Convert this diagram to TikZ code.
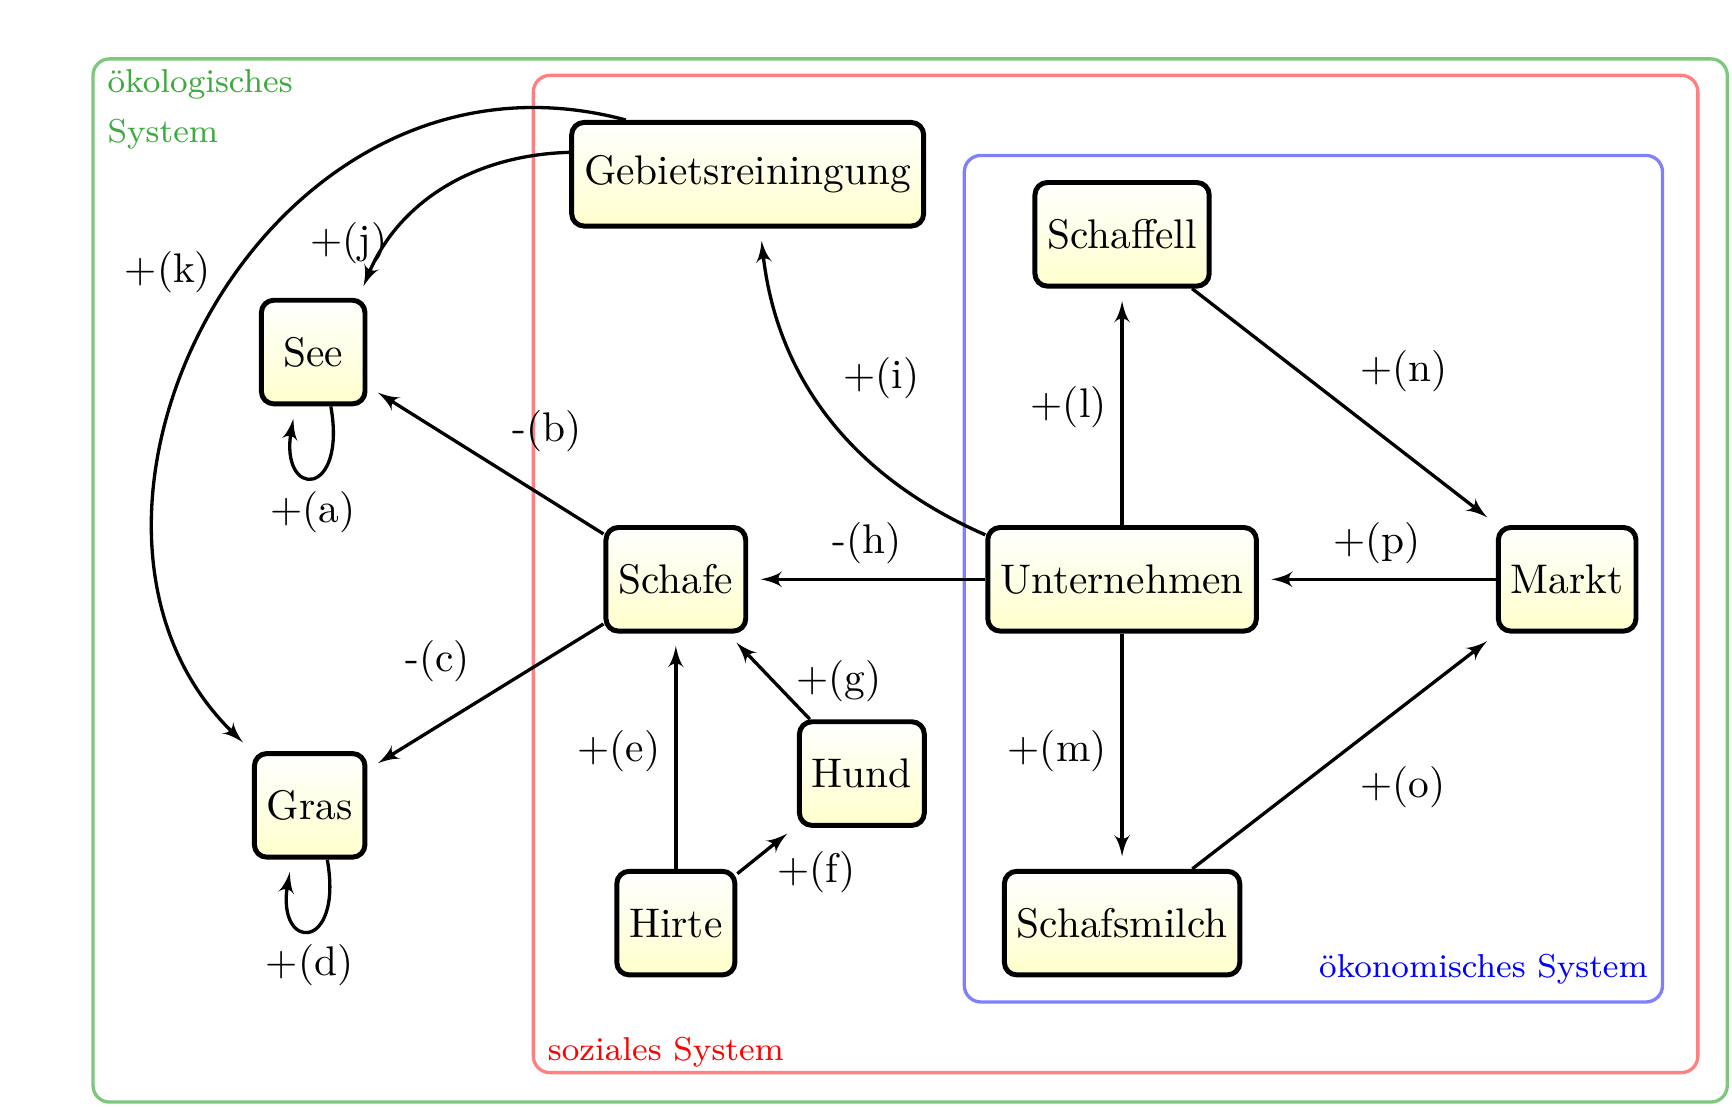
\documentclass[tikz,border=0pt]{standalone}
\usepackage{tikz}
\usetikzlibrary{arrows,calc,positioning,shapes}
\definecolor{ecoline}{RGB}{125,200,125}
\definecolor{ecotext}{RGB}{60,170,60}
\newcommand{\framefont}{\fontsize{8pt}{12pt}\selectfont}

\begin{document}
\begin{tikzpicture}[>=latex']
	\tikzstyle{block} = [draw, very thick, rounded corners=3pt, top color=white, bottom color=yellow!20, minimum height=0.88cm, minimum width=0.88cm, inner xsep=3pt]
	\tikzstyle{link} = [draw, thick, ->, shorten >=3pt]
	\tikzstyle{sysbox} = [thick, rounded corners]

	\useasboundingbox (0,0) rectangle (14.71,9.40);

	% the three systems
	\draw[sysbox, ecoline] (0.79,0.04) rectangle (14.67,8.90);
	\draw[sysbox, red!50] (4.53,0.29) rectangle (14.42,8.76);
	\draw[sysbox, blue!50] (8.19,0.89) rectangle (14.12,8.08);

	\node[anchor=north west, text=ecotext, font=\framefont, align=left] (ecolabel) at (0.79,8.93) {ökologisches\\System};
	\node[anchor=south west, text=red, font=\framefont] (soclabel) at (4.53,0.21) {soziales System};
	\node[anchor=south east, text=blue, font=\framefont] (ecnlabel) at (14.12,0.92) {ökonomisches System};

	% actors
	\node[block] (gebiet) at (6.35,7.92) {Gebietsreiningung};
	\node[block] (fell) at (9.53,7.41) {Schaffell};
	\node[block] (see) at (2.66,6.41) {See};
	\node[block] (schafe) at (5.74,4.48) {Schafe};
	\node[block] (firma) at (9.53,4.48) {Unternehmen};
	\node[block] (markt) at (13.31,4.48) {Markt};
	\node[block] (hund) at (7.32,2.83) {Hund};
	\node[block] (gras) at (2.63,2.56) {Gras};
	\node[block] (hirte) at (5.74,1.56) {Hirte};
	\node[block] (milch) at (9.53,1.56) {Schafsmilch};

	% relations
	\draw[link] (see.-72) .. controls +(-80:0.8) and +(-100:0.8) .. node[below] {+(a)} (see.-108);
	\draw[link] (schafe) -- node[pos=0.45, above right] {-(b)} (see);
	\draw[link] (schafe) -- node[above left] {-(c)} (gras);
	\draw[link] (gras.-72) .. controls +(-80:0.8) and +(-100:0.8) .. node[below] {+(d)} (gras.-108);
	\draw[link] (hirte) -- node[left] {+(e)} (schafe);
	\draw[link] (hirte) -- node[pos=0.2, right, xshift=3pt, yshift=-2pt] {+(f)} (hund);
	\draw[link] (hund) -- node[pos=0.45, right, xshift=2pt] {+(g)} (schafe);
	\draw[link] (firma) -- node[above] {-(h)} (schafe);
	\draw[link] (firma.162) to[bend left=30] node[above right] {+(i)} (gebiet.-77);
	\draw[link] (gebiet.173) to[bend right=33] node[pos=0.78, left, inner sep=0pt] {+(j)} (see.50);
	\draw[link] (gebiet.156) .. controls +(165:3.2) and +(136:2.8) .. node[pos=0.45, left=3pt] {+(k)} (gras.north west);
	\draw[link] (firma) -- node[left] {+(l)} (fell);
	\draw[link] (firma) -- node[left] {+(m)} (milch);
	\draw[link] (fell) -- node[above right] {+(n)} (markt);
	\draw[link] (milch) -- node[below right] {+(o)} (markt);
	\draw[link] (markt) -- node[above] {+(p)} (firma);
\end{tikzpicture}
\end{document}
